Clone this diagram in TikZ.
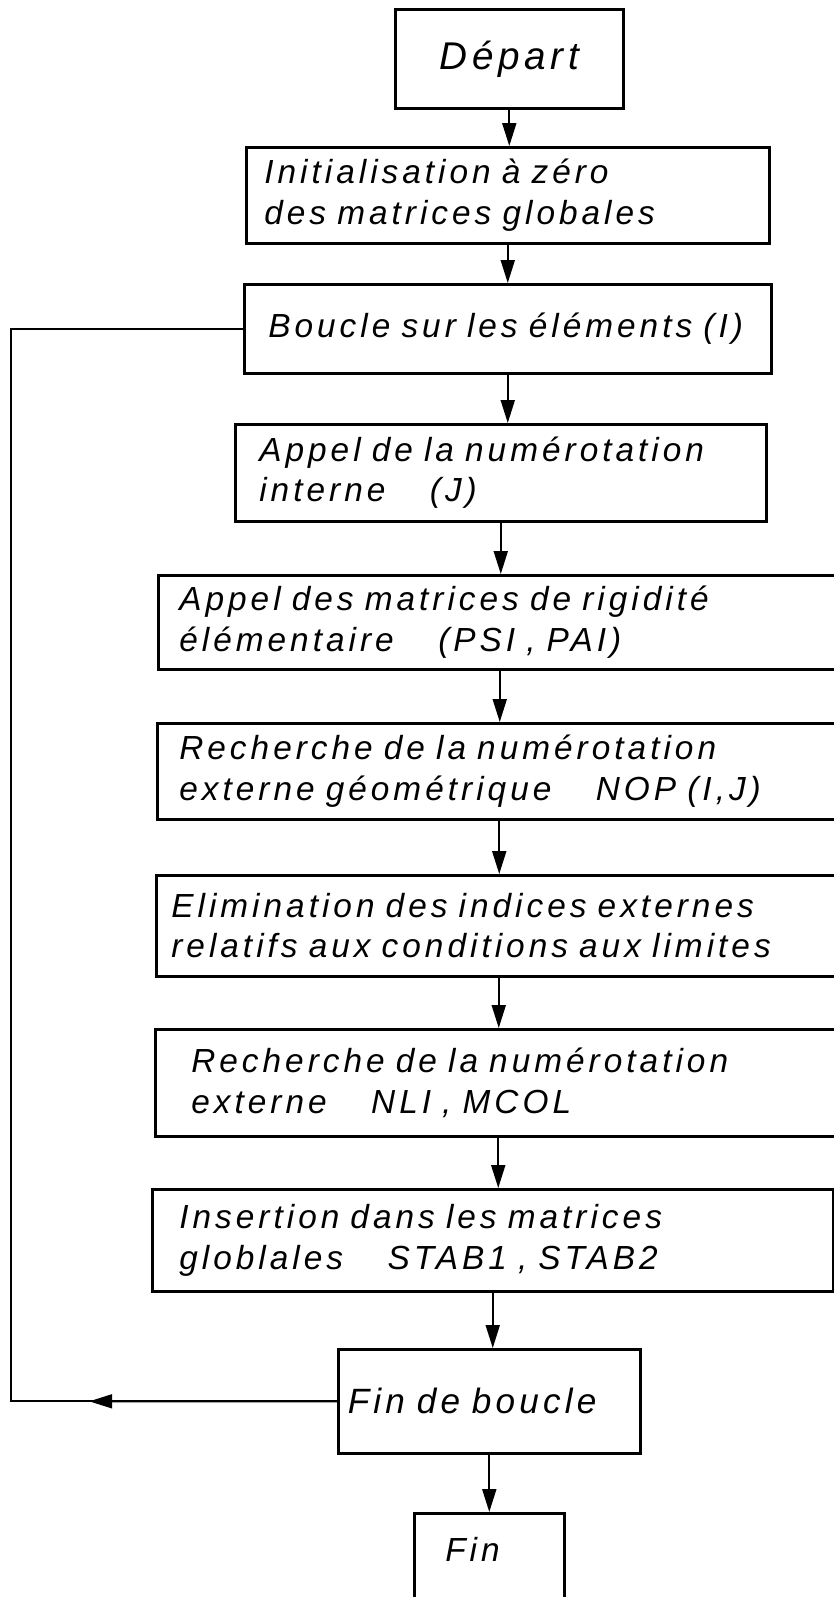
\documentclass[tikz,border=0pt]{standalone}
\usepackage{fontspec}
\newfontfamily\lettrage{Liberation Sans}[LetterSpace=12,WordSpace=3.4]
\usetikzlibrary{arrows.meta,calc}
\tikzset{
  etape/.style={
    rectangle,
    draw,
    line width=1.5pt,
    anchor=north west,
    align=left,
    inner xsep=0pt,
    inner ysep=0pt,
    font=\lettrage\itshape\fontsize{19}{23}\selectfont
  },
  fleche/.style={-{Triangle[length=4.6mm,width=2.8mm]}, line width=1.1pt},
  ligne/.style={line width=1.2pt}
}

\begin{document}
\begin{tikzpicture}[x=0.02cm,y=-0.02cm]
  \useasboundingbox (0,0) rectangle (833,1597);

  \node[etape, align=center, minimum width=4.56cm, minimum height=1.98cm,
        font=\lettrage\itshape\fontsize{22}{26}\selectfont] (depart) at (394,8) {Départ};
  \node[etape, minimum width=10.46cm, minimum height=1.92cm, text width=9.74cm] (init) at (245,146)
    {Initialisation à zéro\\des matrices globales};
  \node[etape, minimum width=10.54cm, minimum height=1.78cm, text width=9.58cm] (boucle) at (243,283)
    {Boucle sur les éléments (I)};
  \node[etape, minimum width=10.62cm, minimum height=1.94cm, text width=9.66cm] (appint) at (234,423)
    {Appel de la numérotation\\interne \quad (J)};
  \node[etape, minimum width=13.66cm, minimum height=1.88cm, text width=12.82cm] (appmat) at (157,574)
    {Appel des matrices de rigidité\\élémentaire \quad (PSI , PAI)};
  \node[etape, minimum width=13.68cm, minimum height=1.92cm, text width=12.8cm] (rgeo) at (156,722)
    {Recherche de la numérotation\\externe géométrique \quad NOP (I,J)};
  \node[etape, minimum width=13.7cm, minimum height=2.02cm, text width=13.1cm] (elim) at (155,874)
    {Elimination des indices externes\\relatifs aux conditions aux limites};
  \node[etape, minimum width=13.72cm, minimum height=2.14cm, text width=12.28cm] (nli) at (154,1028)
    {Recherche de la numérotation\\externe \quad NLI , MCOL};
  \node[etape, minimum width=13.62cm, minimum height=2.04cm, text width=12.54cm] (ins) at (151,1188)
    {Insertion dans les matrices\\globlales \quad STAB1 , STAB2};
  \node[etape, minimum width=6.04cm, minimum height=2.08cm, text width=5.66cm,
        font=\lettrage\itshape\fontsize{20}{24}\selectfont] (fdb) at (337,1348)
    {Fin de boucle};
  \node[etape, minimum width=3cm, text width=1.76cm, text height=0.96cm, text depth=1cm] (fin) at (413,1512)
    {Fin};

  % suite des etapes
  \draw[fleche] (depart.south) -- (depart.south |- init.north);
  \draw[fleche] (init.south) -- (init.south |- boucle.north);
  \draw[fleche] (boucle.south) -- (boucle.south |- appint.north);
  \draw[fleche] (appint.south) -- (appint.south |- appmat.north);
  \draw[fleche] (appmat.south) -- (appmat.south |- rgeo.north);
  \draw[fleche] (rgeo.south) -- (rgeo.south |- elim.north);
  \draw[fleche] (elim.south) -- (elim.south |- nli.north);
  \draw[fleche] (nli.south) -- (nli.south |- ins.north);
  \draw[fleche] (ins.south) -- (ins.south |- fdb.north);
  \draw[fleche] (fdb.south) -- (fdb.south |- fin.north);

  % retour de boucle
  \coordinate (retour) at (11,1390);
  \draw[ligne] (fdb.west) -- (fdb.west -| retour) |- (boucle.west);
  \draw[fleche] (fdb.west) -- ($(fdb.west)!0.76!(fdb.west -| retour)$);
\end{tikzpicture}
\end{document}
